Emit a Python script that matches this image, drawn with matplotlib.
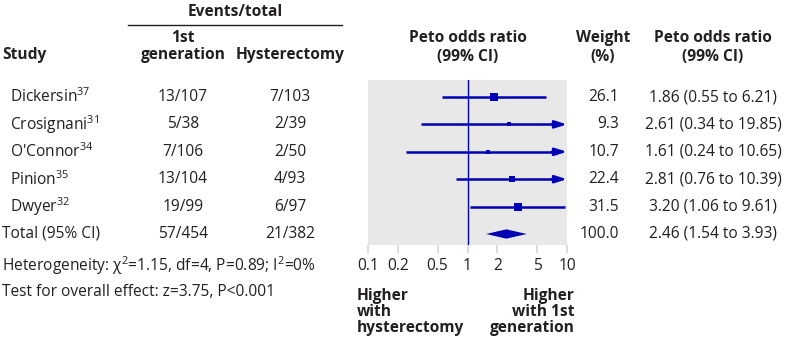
import numpy as np
import matplotlib.pyplot as plt
from matplotlib.patches import Polygon

plt.rcParams['font.family'] = ['Open Sans', 'DejaVu Sans']
plt.rcParams['mathtext.fontset'] = 'custom'
plt.rcParams['mathtext.rm'] = 'Open Sans'
plt.rcParams['mathtext.it'] = 'Open Sans:italic'
plt.rcParams['mathtext.bf'] = 'Open Sans:bold'

# Study data
studies = ['Dickersin', 'Crosignani', "O'Connor", 'Pinion', 'Dwyer']
refs = ['37', '31', '34', '35', '32']
ev_first = ['13/107', '5/38', '7/106', '13/104', '19/99']
ev_hyst = ['7/103', '2/39', '2/50', '4/93', '6/97']
odds = [1.86, 2.61, 1.61, 2.81, 3.20]
lo = [0.55, 0.34, 0.24, 0.76, 1.06]
hi = [6.21, 19.85, 10.65, 10.39, 9.61]
weight = [26.1, 9.3, 10.7, 22.4, 31.5]

total_first = '57/454'
total_hyst = '21/382'
total_or = 2.46
total_lo = 1.54
total_hi = 3.93
total_weight = 100.0

xticks = [0.1, 0.2, 0.5, 1, 2, 5, 10]
xticklabels = ['0.1', '0.2', '0.5', '1', '2', '5', '10']

W, H = 790, 338
fig = plt.figure(figsize=(W / 100, H / 100), dpi=100)
blue = '#0000b4'
txt = '#231f20'
fs = 11.2


def put(x, y, s, ha='left', bold=False, size=fs, **kw):
    fig.text(x / W, 1 - y / H, s, ha=ha, va='center', fontsize=size,
             fontweight='bold' if bold else 'normal', color=txt, **kw)


# headers
put(235, 12, 'Events/total', ha='center', bold=True)
fig.add_artist(plt.Line2D([128 / W, 342 / W], [1 - 25 / H, 1 - 25 / H], color=txt, lw=1))
put(2, 55, 'Study', bold=True)
put(183, 38, '1st', ha='center', bold=True)
put(183, 55, 'generation', ha='center', bold=True)
put(290, 55, 'Hysterectomy', ha='center', bold=True)
put(468, 38, 'Peto odds ratio', ha='center', bold=True)
put(468, 57, '(99% CI)', ha='center', bold=True)
put(603, 38, 'Weight', ha='center', bold=True)
put(603, 57, '(%)', ha='center', bold=True)
put(713, 38, 'Peto odds ratio', ha='center', bold=True)
put(713, 57, '(99% CI)', ha='center', bold=True)

# table rows
y0, dy = 97, 27.4
for i in range(len(studies)):
    y = y0 + dy * i
    put(10, y, studies[i] + '$^{' + refs[i] + '}$')
    put(183, y, ev_first[i], ha='center')
    put(290, y, ev_hyst[i], ha='center')
    put(619, y, f'{weight[i]:.1f}', ha='right')
    put(713, y, f'{odds[i]:.2f} ({lo[i]:.2f} to {hi[i]:.2f})', ha='center')

yt = y0 + dy * len(studies)
put(2, yt, 'Total (95% CI)')
put(183, yt, total_first, ha='center')
put(290, yt, total_hyst, ha='center')
put(619, yt, f'{total_weight:.1f}', ha='right')
put(713, yt, f'{total_or:.2f} ({total_lo:.2f} to {total_hi:.2f})', ha='center')

put(2, 266, 'Heterogeneity: χ$^2$=1.15, df=4, P=0.89; I$^2$=0%')
put(2, 292, 'Test for overall effect: z=3.75, P<0.001')

fig.text(357 / W, 1 - 312 / H, 'Higher\nwith\nhysterectomy', ha='left', va='center',
         fontsize=fs, fontweight='bold', color=txt, linespacing=0.98)
fig.text(575 / W, 1 - 312 / H, 'Higher\nwith 1st\ngeneration', ha='right', va='center',
         fontsize=fs, fontweight='bold', color=txt, linespacing=0.98)

# forest panel
px0, px1, py0, py1 = 368, 567, 80, 245
ax = fig.add_axes([px0 / W, 1 - py1 / H, (px1 - px0) / W, (py1 - py0) / H])
ax.set_facecolor('#e8e8e8')
ax.set_xscale('log')
ax.set_xlim(0.1, 10)
ax.set_ylim((py1 - y0) / dy, (py0 - y0) / dy)
for s in ax.spines.values():
    s.set_visible(False)
ax.set_yticks([])
ax.set_xticks(xticks)
ax.set_xticklabels(xticklabels)
ax.minorticks_off()
ax.tick_params(axis='x', length=6, width=1.5, color='#dcdcdc', labelsize=fs,
               labelcolor=txt, pad=3)

ax.axvline(1, color=blue, lw=1)
for i in range(len(studies)):
    right = min(hi[i], 10)
    if hi[i] > 10:
        ax.plot([lo[i], 7.5], [i, i], color=blue, lw=1.8, solid_capstyle='butt')
        ax.annotate('', xy=(10, i), xytext=(7.0, i),
                    arrowprops=dict(arrowstyle='-|>,head_length=0.7,head_width=0.22',
                                    color=blue, lw=1.8, shrinkA=0, shrinkB=0))
    else:
        ax.plot([lo[i], right], [i, i], color=blue, lw=1.8, solid_capstyle='butt')
    ax.plot(odds[i], i, 's', color=blue, ms=1.8 + weight[i] * 0.14, mew=0)

it = len(studies)
dia = Polygon([[total_lo, it], [total_or, it - 0.17], [total_hi, it], [total_or, it + 0.17]],
              closed=True, color=blue, lw=0)
ax.add_patch(dia)

fig.savefig('out.png', dpi=100)
